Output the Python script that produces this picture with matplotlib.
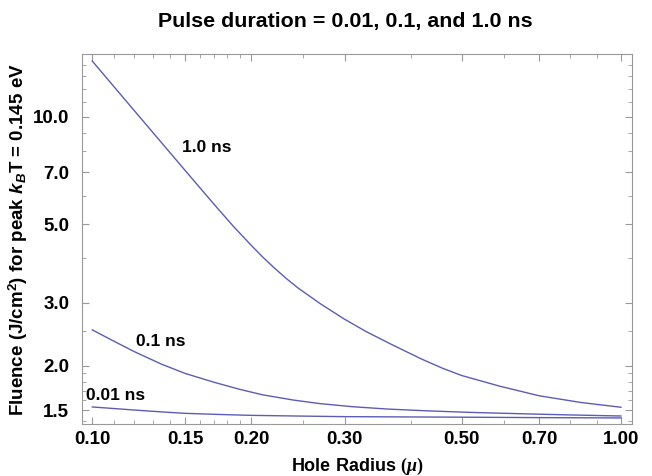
import matplotlib.pyplot as plt

# values (log-log plot)
radius_1ns = [0.10, 0.1225, 0.15, 0.17, 0.185, 0.20, 0.21, 0.22, 0.233, 0.245, 0.27, 0.30,
              0.33, 0.37, 0.42, 0.46, 0.50, 0.59, 0.70, 0.84, 1.00]
fluence_1ns = [14.36, 10.06, 7.06, 5.68, 4.92, 4.35, 4.04, 3.785, 3.51, 3.305, 2.985, 2.70,
               2.49, 2.285, 2.085, 1.965, 1.875, 1.75, 1.645, 1.575, 1.527]

radius_01ns = [0.10, 0.11, 0.12, 0.135, 0.15, 0.17, 0.19, 0.21, 0.24, 0.27,
               0.31, 0.36, 0.43, 0.52, 0.65, 0.80, 1.00]
fluence_01ns = [2.52, 2.34, 2.19, 2.02, 1.90, 1.795, 1.715, 1.655, 1.60, 1.563,
                1.533, 1.51, 1.492, 1.477, 1.464, 1.453, 1.443]

radius_001ns = [0.10, 0.12, 0.135, 0.15, 0.175, 0.20, 0.25, 0.30, 0.50, 0.70, 1.00]
fluence_001ns = [1.53, 1.50, 1.482, 1.468, 1.457, 1.449, 1.442, 1.437, 1.432, 1.428, 1.425]

xticks = [0.10, 0.15, 0.20, 0.30, 0.50, 0.70, 1.00]
xtick_labels = ['0.10', '0.15', '0.20', '0.30', '0.50', '0.70', '1.00']
xminor = [0.11, 0.12, 0.13, 0.14, 0.16, 0.17, 0.18, 0.19, 0.25, 0.4, 0.6, 0.8, 0.9]
yticks = [1.5, 2.0, 3.0, 5.0, 7.0, 10.0]
ytick_labels = ['1.5', '2.0', '3.0', '5.0', '7.0', '10.0']
yminor = [1.4, 1.6, 1.7, 1.8, 1.9, 2.5, 4.0, 6.0, 8.0, 9.0, 11.0, 12.0, 13.0, 14.0]

plt.rcParams['font.family'] = ['Liberation Sans', 'DejaVu Sans']
plt.rcParams['font.weight'] = 'bold'
plt.rcParams['mathtext.fontset'] = 'custom'
plt.rcParams['mathtext.rm'] = 'Liberation Sans:bold'
plt.rcParams['mathtext.bf'] = 'Liberation Sans:bold'
plt.rcParams['mathtext.sf'] = 'Liberation Sans:bold:italic'
plt.rcParams['mathtext.it'] = 'Liberation Serif:italic'
plt.rcParams['mathtext.cal'] = 'Liberation Serif'

line_col = '#5c5cb8'
frame_col = '#999999'

fig = plt.figure(figsize=(6.52, 4.76), dpi=100)
ax = fig.add_axes([0.1253, 0.1092, 0.8436, 0.7767])

ax.plot(radius_1ns, fluence_1ns, color=line_col, lw=1)
ax.plot(radius_01ns, fluence_01ns, color=line_col, lw=1)
ax.plot(radius_001ns, fluence_001ns, color=line_col, lw=1)

ax.set_xscale('log')
ax.set_yscale('log')
ax.set_xlim(0.0955, 1.048)
ax.set_ylim(1.37, 15.0)

ax.set_xticks(xticks)
ax.set_xticklabels(xtick_labels)
ax.set_xticks(xminor, minor=True)
ax.set_xticklabels([''] * len(xminor), minor=True)
ax.set_yticks(yticks)
ax.set_yticklabels(ytick_labels)
ax.set_yticks(yminor, minor=True)
ax.set_yticklabels([''] * len(yminor), minor=True)

ax.tick_params(which='both', direction='in', top=True, right=True,
               color=frame_col, labelsize=13.5)
ax.tick_params(which='major', length=5, width=0.8)
ax.tick_params(which='minor', length=3, width=0.6)
ax.tick_params(axis='x', pad=5)
ax.tick_params(axis='y', pad=9)
for s in ax.spines.values():
    s.set_color(frame_col)
    s.set_linewidth(0.8)

ax.text(0.165, 8.2, '1.0 ns', fontsize=12.5, fontweight='bold', ha='center', va='center')
ax.text(0.1349, 2.34, '0.1 ns', fontsize=12.5, fontweight='bold', ha='center', va='center')
ax.text(0.1109, 1.65, '0.01 ns', fontsize=12.5, fontweight='bold', ha='center', va='center')

ax.set_xlabel(r'Hole Radius $\mathcal{(}\mu\mathcal{)}$', fontsize=13, fontweight='bold')
ax.xaxis.set_label_coords(0.5, -0.086)
ax.set_ylabel(r'Fluence (J/cm$^{\mathbf{2}}$) for peak $\mathsf{k}_{\mathsf{B}}$T = 0.145 eV',
              fontsize=13.5, fontweight='bold')
ax.yaxis.set_label_coords(-0.094, 0.5)

fig.text(0.53, 1 - 22 / 476, 'Pulse duration = 0.01, 0.1, and 1.0 ns',
         fontsize=15.4, fontweight='bold', ha='center', va='center')

fig.savefig('out.png', dpi=100)
